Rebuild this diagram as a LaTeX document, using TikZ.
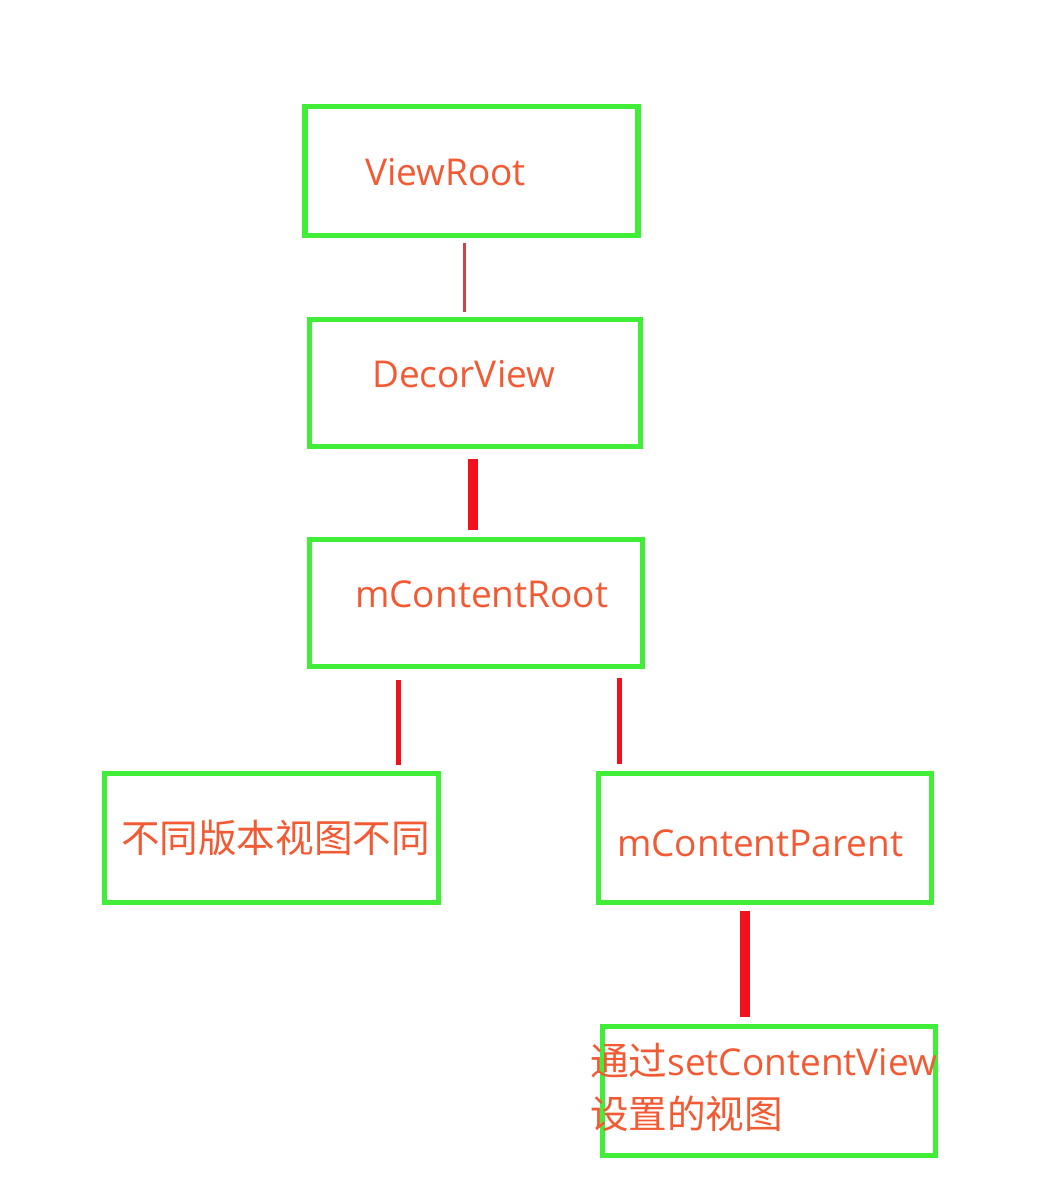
\documentclass[tikz,border=0pt]{standalone}
\usepackage{fontspec}
\setmainfont{Open Sans}
\newfontfamily\cjk{Noto Sans CJK SC}[Scale=1.043]
\definecolor{boxgreen}{HTML}{40EE38}
\definecolor{txtred}{HTML}{F25A34}
\definecolor{linered}{HTML}{F2101E}
\definecolor{linedark}{HTML}{CC4448}
\tikzset{
  viewbox/.style={draw=boxgreen,line width=5.5pt,minimum width=333pt,minimum height=129pt,inner sep=0pt},
  viewtext/.style={text=txtred,inner sep=0pt,anchor=west,font=\fontsize{37}{53}\selectfont},
  link/.style={draw=linered,line width=5pt},
  biglink/.style={draw=linered,line width=10pt}
}

\begin{document}
\begin{tikzpicture}[x=1pt,y=1pt]
    \useasboundingbox (0,0) rectangle (1052,-1198);
    \node[viewbox] (vroot) at (471.5,-171) {};
    \node[viewtext] (vrootlbl) at (365,-172) {ViewRoot};
    \node[viewbox,minimum width=331pt,minimum height=127pt] (decor) at (475,-383) {};
    \node[viewtext] (decorlbl) at (372,-374) {DecorView};
    \node[viewbox,minimum height=127pt] (croot) at (476,-603) {};
    \node[viewtext] (crootlbl) at (355,-594) {mContentRoot};
    \node[viewbox,minimum width=334pt] (diff) at (271.5,-838) {};
    \node[viewtext] (difflbl) at (121,-838) {\cjk 不同版本视图不同};
    \node[viewbox] (cparent) at (765,-838) {};
    \node[viewtext] (cparentlbl) at (617,-843) {mContentParent};
    \node[viewbox] (setv) at (769,-1091) {};
    \node[viewtext,align=left] (setvlbl) at (590,-1087) {{\cjk 通过}setContentView\\{\cjk 设置的视图}};

    \draw[draw=linedark,line width=3pt,shorten <=4.5pt,shorten >=5pt] ([xshift=-7.5pt]vroot.south) -- ([xshift=-11pt]decor.north);
    \draw[biglink,shorten <=9.5pt,shorten >=6.5pt] ([xshift=-2pt]decor.south) -- ([xshift=-3pt]croot.north);
    \draw[link,shorten <=10.5pt,shorten >=5.5pt] ([xshift=-78pt]croot.south) -- ([xshift=126.5pt]diff.north);
    \draw[link,shorten <=8.5pt,shorten >=6.5pt] ([xshift=143pt]croot.south) -- ([xshift=-146pt]cparent.north);
    \draw[biglink,shorten <=5.5pt,shorten >=6.5pt] ([xshift=-20pt]cparent.south) -- ([xshift=-24pt]setv.north);
  \end{tikzpicture}
\end{document}
